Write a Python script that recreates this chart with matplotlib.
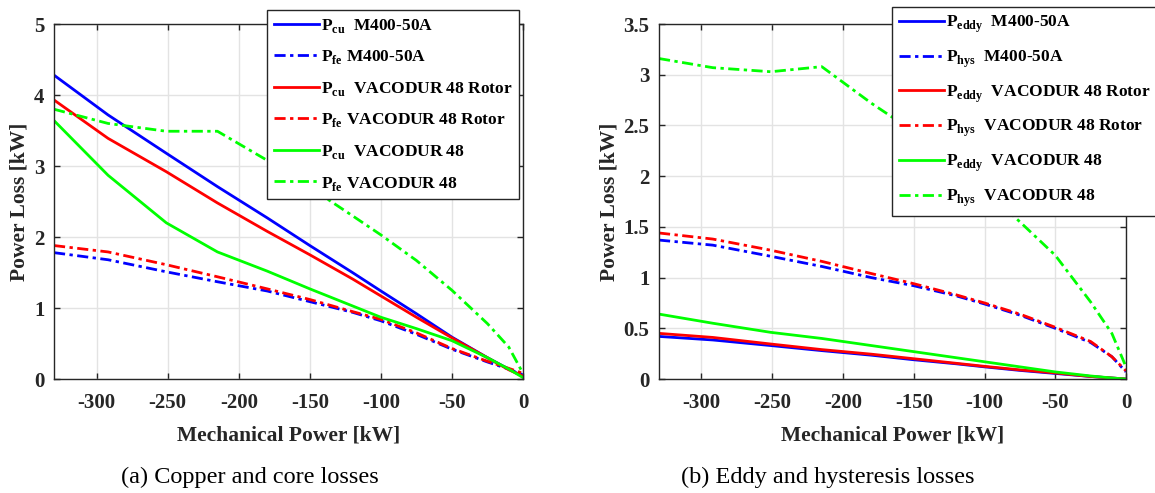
import matplotlib.pyplot as plt

plt.rcParams['font.family'] = 'Liberation Serif'
plt.rcParams['font.weight'] = 'bold'
plt.rcParams['mathtext.fontset'] = 'custom'
plt.rcParams['mathtext.rm'] = 'Liberation Serif:bold'
plt.rcParams['mathtext.bf'] = 'Liberation Serif:bold'
plt.rcParams['axes.unicode_minus'] = False

# mechanical power operating points [kW]
power = [-330, -292, -251, -215, -180, -150, -120, -100, -75, -50, -25, -10, 0]

# (a) copper and core losses [kW]
cu_m400 = [4.28, 3.72, 3.18, 2.71, 2.27, 1.88, 1.50, 1.24, 0.92, 0.59, 0.30, 0.14, 0.04]
fe_m400 = [1.78, 1.68, 1.51, 1.37, 1.24, 1.09, 0.94, 0.82, 0.63, 0.42, 0.24, 0.14, 0.06]
cu_vac_rotor = [3.93, 3.39, 2.92, 2.48, 2.08, 1.75, 1.41, 1.17, 0.87, 0.58, 0.30, 0.13, 0.04]
fe_vac_rotor = [1.88, 1.79, 1.61, 1.44, 1.27, 1.12, 0.95, 0.84, 0.65, 0.43, 0.25, 0.15, 0.08]
cu_vac = [3.64, 2.87, 2.20, 1.79, 1.52, 1.27, 1.03, 0.87, 0.71, 0.54, 0.30, 0.14, 0.02]
fe_vac = [3.80, 3.60, 3.49, 3.49, 3.08, 2.70, 2.30, 2.03, 1.67, 1.25, 0.78, 0.45, 0.08]

# (b) eddy and hysteresis losses [kW]
eddy_m400 = [0.42, 0.385, 0.33, 0.28, 0.235, 0.19, 0.15, 0.12, 0.085, 0.055, 0.025, 0.01, 0.0]
hys_m400 = [1.37, 1.32, 1.21, 1.11, 1.00, 0.92, 0.82, 0.74, 0.63, 0.50, 0.36, 0.22, 0.07]
eddy_vac_rotor = [0.45, 0.41, 0.345, 0.29, 0.245, 0.20, 0.155, 0.125, 0.09, 0.06, 0.025, 0.01, 0.0]
hys_vac_rotor = [1.44, 1.38, 1.27, 1.16, 1.04, 0.94, 0.83, 0.75, 0.64, 0.51, 0.37, 0.22, 0.08]
eddy_vac = [0.64, 0.55, 0.46, 0.40, 0.33, 0.27, 0.21, 0.17, 0.12, 0.07, 0.03, 0.01, 0.0]
hys_vac = [3.16, 3.07, 3.03, 3.08, 2.72, 2.44, 2.10, 1.87, 1.55, 1.22, 0.76, 0.45, 0.12]

materials = ['M400-50A', 'VACODUR 48 Rotor', 'VACODUR 48']
colors = ['#0000ff', '#ff0000', '#00ff00']
dashdot = (0, (4, 1.6, 1.2, 1.6))

fig = plt.figure(figsize=(11.55, 4.93), dpi=100)
ax1 = fig.add_axes([0.0468, 0.2312, 0.406, 0.720])
ax2 = fig.add_axes([0.5706, 0.2312, 0.4043, 0.720])

panel_a = [(cu_m400, fe_m400), (cu_vac_rotor, fe_vac_rotor), (cu_vac, fe_vac)]
panel_b = [(eddy_m400, hys_m400), (eddy_vac_rotor, hys_vac_rotor), (eddy_vac, hys_vac)]

for (sol, dd), mat, c in zip(panel_a, materials, colors):
    ax1.plot(power, sol, color=c, lw=2.0, label=r'P$_{\rm cu}$  ' + mat)
    ax1.plot(power, dd, color=c, lw=2.0, ls=dashdot, label=r'P$_{\rm fe}$ ' + mat)

for (sol, dd), mat, c in zip(panel_b, materials, colors):
    ax2.plot(power, sol, color=c, lw=2.0, label=r'P$_{\rm eddy}$  ' + mat)
    ax2.plot(power, dd, color=c, lw=2.0, ls=dashdot, label=r'P$_{\rm hys}$  ' + mat)

for ax, ymax, yticks, cap, capx in [
        (ax1, 5, [0, 1, 2, 3, 4, 5], '(a) Copper and core losses', 0.2165),
        (ax2, 3.5, [0, 0.5, 1, 1.5, 2, 2.5, 3, 3.5], '(b) Eddy and hysteresis losses', 0.717)]:
    ax.set_xlim(-330, 0)
    ax.set_ylim(0, ymax)
    ax.set_xticks([-300, -250, -200, -150, -100, -50, 0])
    ax.set_yticks(yticks)
    ax.set_yticklabels([('%g' % v) for v in yticks])
    ax.grid(True, color='#e3e3e3', lw=1.0)
    ax.set_axisbelow(True)
    ax.tick_params(direction='in', length=4, width=1, colors='#262626',
                   labelsize=15, top=True, right=True)
    ax.tick_params(axis='x', pad=10)
    ax.tick_params(axis='y', pad=7)
    for lab in ax.get_xticklabels() + ax.get_yticklabels():
        lab.set_fontweight('bold')
    for sp in ax.spines.values():
        sp.set_color('#262626')
        sp.set_linewidth(1.0)
    ax.set_xlabel('Mechanical Power [kW]', fontsize=15.5, fontweight='bold',
                  color='#262626', labelpad=9)
    ax.set_ylabel('Power Loss [kW]', fontsize=15.5, fontweight='bold',
                  color='#262626', labelpad=3)
    fig.text(capx, 0.01, cap, fontsize=17.5, fontweight='normal', ha='center', va='bottom')

leg_kw = dict(loc='upper left', bbox_transform=fig.transFigure, fontsize=12.5,
              handlelength=2.6, handletextpad=0.1, labelspacing=0.78, borderpad=0.4,
              borderaxespad=0, fancybox=False, framealpha=1, edgecolor='#262626')
leg1 = ax1.legend(bbox_to_anchor=(0.2312, 0.98), **leg_kw)
leg2 = ax2.legend(bbox_to_anchor=(0.7723, 0.986), **leg_kw)
for leg in (leg1, leg2):
    leg.get_frame().set_linewidth(1.0)

fig.savefig('out.png', dpi=100)
